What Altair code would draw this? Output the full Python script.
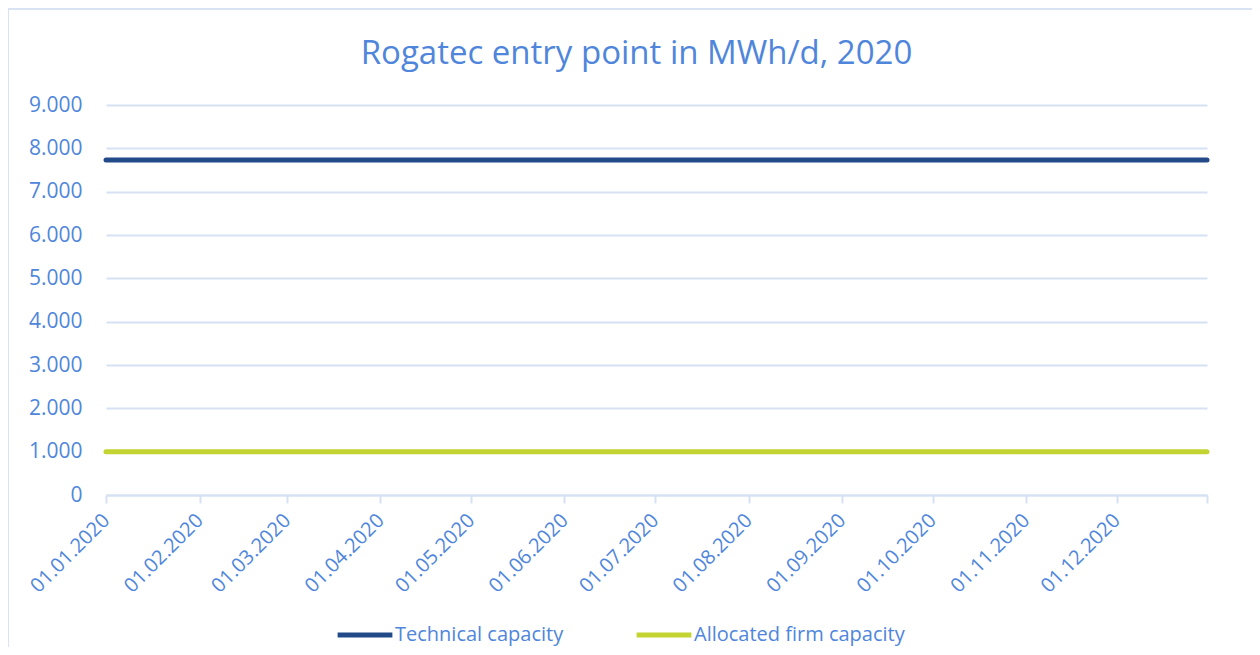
import altair as alt
import pandas as pd

dates = ["2020-01-01", "2020-02-01", "2020-03-01", "2020-04-01", "2020-05-01",
         "2020-06-01", "2020-07-01", "2020-08-01", "2020-09-01", "2020-10-01",
         "2020-11-01", "2020-12-01", "2020-12-31"]
technical = [7730, 7730, 7730, 7730, 7730, 7730, 7730, 7730, 7730, 7730, 7730, 7730, 7730]
allocated = [1000, 1000, 1000, 1000, 1000, 1000, 1000, 1000, 1000, 1000, 1000, 1000, 1000]
series_names = ["Technical capacity", "Allocated firm capacity"]
series_colors = ["#234a88", "#c2d332"]
y_ticks = [0, 1000, 2000, 3000, 4000, 5000, 6000, 7000, 8000, 9000]

rows = []
for d, t in zip(dates, technical):
    rows.append({"date": d, "value": t, "series": series_names[0]})
for d, a in zip(dates, allocated):
    rows.append({"date": d, "value": a, "series": series_names[1]})
df = pd.DataFrame(rows)

TXT = "#4f86db"
FONT = "Open Sans"
FRAME = "#d9e3f4"

tick_vals = [alt.DateTime(year=int(d[:4]), month=int(d[5:7]), date=int(d[8:]), utc=True) for d in dates]

lines = alt.Chart(df).mark_line(strokeWidth=5, strokeCap="round").encode(
    x=alt.X("date:T",
            scale=alt.Scale(type="utc",
                            domain=[alt.DateTime(year=2020, month=1, date=1, utc=True),
                                    alt.DateTime(year=2020, month=12, date=31, utc=True)]),
            axis=alt.Axis(title=None, values=tick_vals, grid=False,
                          labelExpr="utcdate(datum.value) == 31 ? '' : utcFormat(datum.value, '%d.%m.%Y')",
                          labelAngle=315, labelAlign="right", labelBaseline="middle",
                          labelFontSize=20, labelColor=TXT, labelFont=FONT, labelPadding=14,
                          domainColor="#d6e1f3", domainWidth=2, tickColor="#d6e1f3",
                          tickWidth=2, tickSize=8, labelOverlap=False, labelBound=False,
                          labelFlush=False)),
    y=alt.Y("value:Q",
            scale=alt.Scale(domain=[0, 9000], nice=False),
            axis=alt.Axis(title=None, values=y_ticks,
                          labelExpr="replace(format(datum.value, ','), ',', '.')",
                          labelFontSize=21, labelColor=TXT, labelFont=FONT, labelPadding=24,
                          domain=False, ticks=False, gridColor="#d6e1f3", gridWidth=2)),
    color=alt.Color("series:N",
                    scale=alt.Scale(domain=series_names, range=series_colors),
                    legend=alt.Legend(title=None, orient="none", legendX=229, legendY=500,
                                      direction="horizontal", symbolType="stroke",
                                      symbolSize=3000, symbolStrokeWidth=5,
                                      labelFontSize=20, labelColor=TXT, labelFont=FONT,
                                      labelOffset=0, columnPadding=62, labelLimit=500)),
)

frame_df = pd.DataFrame({"k": [0]})
frame_top = alt.Chart(frame_df).mark_rule(color=FRAME, strokeWidth=2).encode(
    x=alt.value(-98), x2=alt.value(1160), y=alt.value(-96))
frame_left = alt.Chart(frame_df).mark_rule(color=FRAME, strokeWidth=2).encode(
    x=alt.value(-98), y=alt.value(-96), y2=alt.value(560))

chart = alt.layer(frame_top, frame_left, lines).properties(
    width=1101,
    height=390,
    title=alt.TitleParams("Rogatec entry point in MWh/d, 2020", fontSize=33,
                          fontWeight="normal", color=TXT, font=FONT, offset=-63,
                          anchor="middle", dx=-20, frame="group"),
    autosize=alt.AutoSizeParams(type="none"),
    padding={"left": 98, "top": 97, "right": 45, "bottom": 152},
).configure_view(stroke=None)

chart.save("out.html", embed_options={"renderer": "svg", "actions": False})
